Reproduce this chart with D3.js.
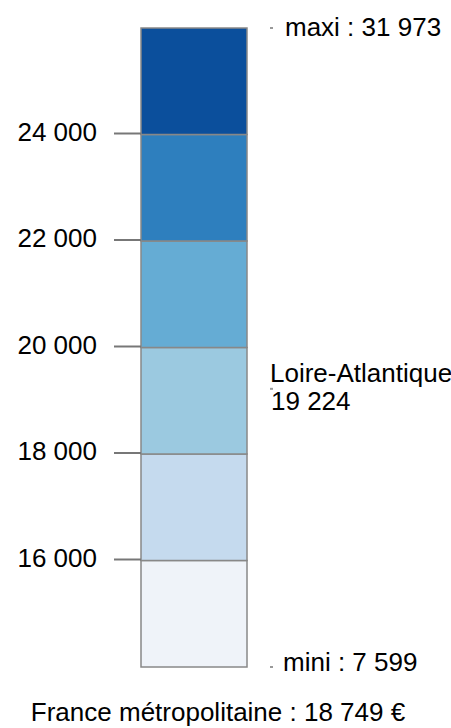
<!DOCTYPE html>
<html>
<head>
<meta charset="utf-8">
<script src="https://cdn.jsdelivr.net/npm/d3@7"></script>
<style>
  body { margin: 0; background: #fff; }
  text { font-family: "Liberation Sans", Arial, sans-serif; fill: #000; }
</style>
</head>
<body>
<svg id="chart" width="451" height="728"></svg>
<script>
// class breaks, from mini to maxi
var breaks = [7599, 16000, 18000, 20000, 22000, 24000, 31973];
var classColors = ['#eff3f9', '#c5daee', '#9bc9e0', '#65acd4', '#2e7fbe', '#0b4f9c'];
var tickValues = [16000, 18000, 20000, 22000, 24000];
var tickLabels = ['16 000', '18 000', '20 000', '22 000', '24 000'];

var mini = { label: 'mini : 7 599', value: 7599 };
var maxi = { label: 'maxi : 31 973', value: 31973 };
var area = { name: 'Loire-Atlantique', label: '19 224', value: 19224 };
var footer = 'France métropolitaine : 18 749 €';

var svg = d3.select('#chart');

var barTop = 28, barBottom = 667;
var barLeft = 141, barWidth = 106;
var step = (barBottom - barTop) / (breaks.length - 1);

// piecewise scale: every class gets the same height
var y = d3.scaleLinear()
	.domain(breaks)
	.range(breaks.map(function(d, i) { return barBottom - i * step; }));

var classes = d3.range(classColors.length).map(function(i) {
	return { lo: breaks[i], hi: breaks[i+1], c: classColors[i] };
});

svg.append('g').selectAll('rect')
	.data(classes)
	.enter().append('rect')
	.attr('x', barLeft)
	.attr('y', function(d) { return y(d.hi); })
	.attr('width', barWidth)
	.attr('height', function(d) { return y(d.lo) - y(d.hi); })
	.style('fill', function(d) { return d.c; })
	.style('stroke', '#888')
	.style('stroke-width', 1.5);

// left axis ticks
var ticks = svg.append('g').selectAll('g')
	.data(tickValues)
	.enter().append('g')
	.attr('transform', function(d) { return 'translate(0,' + y(d) + ')'; });

ticks.append('line')
	.attr('x1', 114).attr('x2', barLeft)
	.attr('y1', -1).attr('y2', -1)
	.style('stroke', '#777')
	.style('stroke-width', 2);

ticks.append('text')
	.attr('x', 97)
	.attr('y', 6)
	.attr('text-anchor', 'end')
	.style('font-size', '26px')
	.text(function(d, i) { return tickLabels[i]; });

// small markers on the right
var markers = [maxi, area, mini];
svg.append('g').selectAll('rect')
	.data(markers)
	.enter().append('rect')
	.attr('x', 270)
	.attr('y', function(d) { return y(d.value) - 1; })
	.attr('width', 3)
	.attr('height', 2)
	.style('fill', '#999');

svg.append('text')
	.attr('x', 285).attr('y', y(maxi.value) + 8)
	.style('font-size', '26px')
	.text(maxi.label);

svg.append('text')
	.attr('x', 283).attr('y', y(mini.value) + 4)
	.style('font-size', '26px')
	.text(mini.label);

svg.append('text')
	.attr('x', 270).attr('y', y(area.value) - 7)
	.style('font-size', '26px')
	.text(area.name);

svg.append('text')
	.attr('x', 271).attr('y', y(area.value) + 21)
	.style('font-size', '26px')
	.text(area.label);

svg.append('text')
	.attr('x', 218).attr('y', 721)
	.attr('text-anchor', 'middle')
	.style('font-size', '26px')
	.text(footer);
</script>
</body>
</html>
